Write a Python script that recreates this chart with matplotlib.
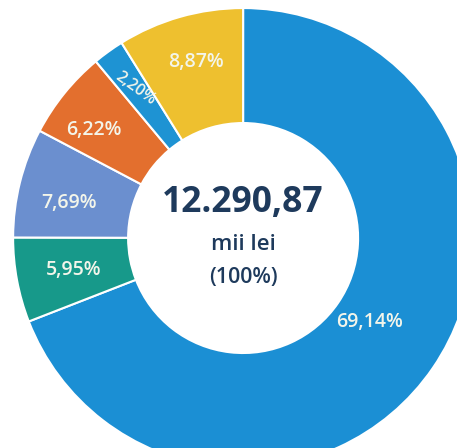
import matplotlib
matplotlib.use('Agg')
import matplotlib.pyplot as plt
import numpy as np

# Slice data, clockwise from 12 o'clock
values = [69.14, 5.95, 7.69, 6.22, 2.20, 8.87]
labels = ['69,14%', '5,95%', '7,69%', '6,22%', '2,20%', '8,87%']
colors = ['#1b8fd4', '#17998a', '#6b8fcf', '#e36f2e', '#1e93d3', '#eec02f']
total_text = '12.290,87'
unit_text = 'mii lei'
share_text = '(100%)'

fig = plt.figure(figsize=(4.57, 4.48), dpi=100)
ax = fig.add_axes([0, 0, 1, 1])

wedges, _ = ax.pie(values, colors=colors, startangle=90, counterclock=False,
                   radius=1.0, wedgeprops=dict(width=0.5, edgecolor='white', linewidth=1.5))

# percentage labels inside the ring
label_r = [0.66, 0.75, 0.77, 0.80, 0.80, 0.79]
label_shift = [0.9, 0, 2.6, 3.2, 0.0, -1.0]
label_rot = [0, 0, 0, 0, -36, 0]
label_size = [14, 14, 14, 14, 11.5, 14]
for w, txt, r, sh, rot, fs in zip(wedges, labels, label_r, label_shift, label_rot, label_size):
    ang = np.deg2rad((w.theta1 + w.theta2) / 2 + sh)
    ax.text(r * np.cos(ang), r * np.sin(ang), txt, ha='center', va='center',
            rotation=rot, fontsize=fs, color='#f3f5ea', family='Open Sans', fontweight='semibold')

ax.text(0, 0.152, total_text, ha='center', va='center', fontsize=25.5,
        fontweight='bold', color='#1e3a5c', family='Open Sans')
ax.text(0, -0.03, unit_text, ha='center', va='center', fontsize=16,
        fontweight='semibold', color='#1e3a5c', family='Open Sans')
ax.text(0, -0.17, share_text, ha='center', va='center', fontsize=15.5,
        fontweight='semibold', color='#1e3a5c', family='Open Sans')

ax.set_xlim(-1.057, 0.930)
ax.set_ylim(-0.913, 1.035)
ax.set_aspect('equal')
ax.axis('off')

plt.savefig('out.png', dpi=100)
